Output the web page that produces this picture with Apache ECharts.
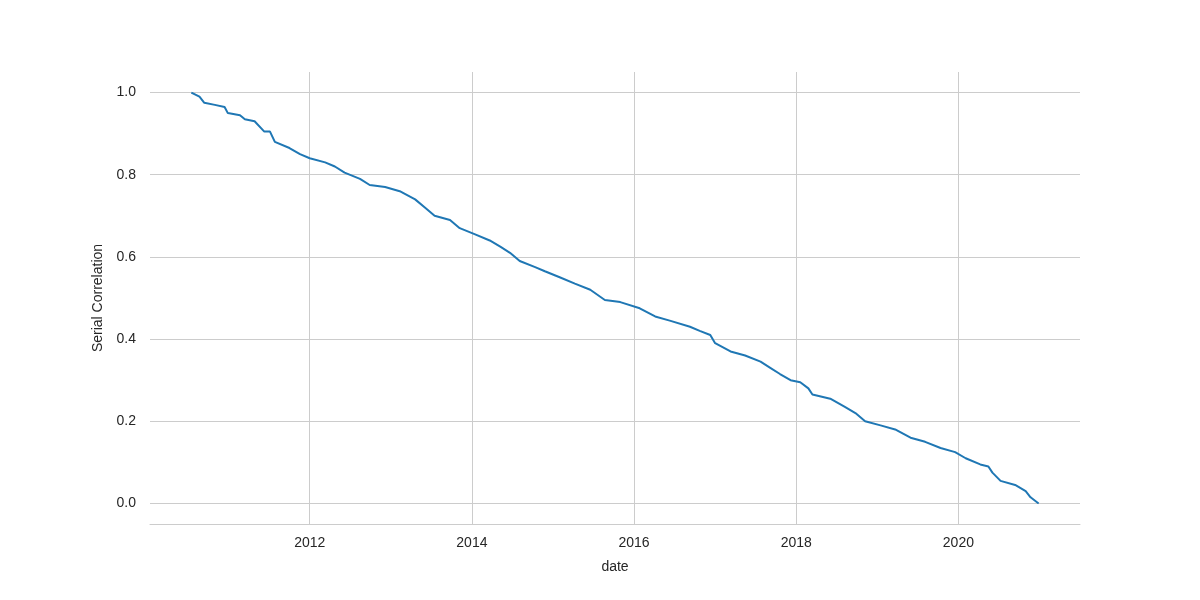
<!DOCTYPE html>
<html>
<head>
<meta charset="utf-8">
<script src="https://cdn.jsdelivr.net/npm/echarts@6/dist/echarts.min.js"></script>
<style>html,body{margin:0;background:#fff}#chart{width:1200px;height:600px}</style>
</head>
<body>
<div id="chart"></div>
<script>
// decimal years
const dates = [2010.54, 2010.64, 2010.70, 2010.83, 2010.95, 2010.99, 2011.14, 2011.20, 2011.32, 2011.44,
  2011.51, 2011.57, 2011.75, 2011.88, 2012.00, 2012.19, 2012.31, 2012.43, 2012.62, 2012.74,
  2012.93, 2013.11, 2013.30, 2013.42, 2013.54, 2013.73, 2013.85, 2014.04, 2014.22, 2014.35,
  2014.47, 2014.59, 2014.78, 2014.90, 2015.09, 2015.27, 2015.46, 2015.64, 2015.83, 2016.07,
  2016.26, 2016.44, 2016.69, 2016.81, 2016.94, 2017.00, 2017.19, 2017.37, 2017.56, 2017.68,
  2017.80, 2017.93, 2018.05, 2018.15, 2018.20, 2018.42, 2018.60, 2018.73, 2018.85, 2019.04,
  2019.22, 2019.41, 2019.59, 2019.78, 2019.96, 2020.09, 2020.27, 2020.37, 2020.42, 2020.52,
  2020.70, 2020.83, 2020.89, 2020.99];
const serialCorr = [1.0, 0.99, 0.975, 0.97, 0.965, 0.95, 0.945, 0.935, 0.93, 0.905,
  0.905, 0.88, 0.865, 0.85, 0.84, 0.83, 0.82, 0.805, 0.79, 0.775,
  0.77, 0.76, 0.74, 0.72, 0.70, 0.69, 0.67, 0.655, 0.64, 0.625,
  0.61, 0.59, 0.575, 0.565, 0.55, 0.535, 0.52, 0.495, 0.49, 0.475,
  0.455, 0.445, 0.43, 0.42, 0.41, 0.39, 0.37, 0.36, 0.345, 0.33,
  0.315, 0.30, 0.295, 0.28, 0.265, 0.255, 0.235, 0.22, 0.20, 0.19,
  0.18, 0.16, 0.15, 0.135, 0.125, 0.11, 0.095, 0.09, 0.075, 0.055,
  0.045, 0.03, 0.015, 0.0];
const xTicks = [2012, 2014, 2016, 2018, 2020];
const yTicks = [0, 0.2, 0.4, 0.6, 0.8, 1.0];

const chart = echarts.init(document.getElementById('chart'));
const txt = { color: '#262626', fontFamily: 'Liberation Sans', fontSize: 14 };
const grid = { lineStyle: { color: '#cccccc', width: 1 } };

chart.setOption({
  animation: false,
  grid: { left: 150, right: 120, top: 72, bottom: 76 },
  xAxis: {
    type: 'value', min: 2010.03, max: 2021.5,
    name: 'date', nameLocation: 'middle', nameGap: 36, nameTextStyle: txt,
    axisLine: { show: true, onZero: false, lineStyle: { color: '#cccccc' } },
    axisTick: { show: false, customValues: xTicks },
    axisLabel: Object.assign({ customValues: xTicks, margin: 12, formatter: v => String(Math.round(v)) }, txt),
    splitLine: Object.assign({ show: true }, grid)
  },
  yAxis: {
    type: 'value', min: -0.05, max: 1.05,
    name: 'Serial Correlation', nameLocation: 'middle', nameGap: 44, nameTextStyle: txt,
    axisLine: { show: false },
    axisTick: { show: false, customValues: yTicks },
    axisLabel: Object.assign({ customValues: yTicks, margin: 14, formatter: v => v.toFixed(1) }, txt),
    splitLine: Object.assign({ show: true }, grid)
  },
  series: [{
    type: 'line', showSymbol: false,
    data: dates.map((d, i) => [d, serialCorr[i]]),
    lineStyle: { color: '#1f77b4', width: 2 }
  }]
});
</script>
</body>
</html>
